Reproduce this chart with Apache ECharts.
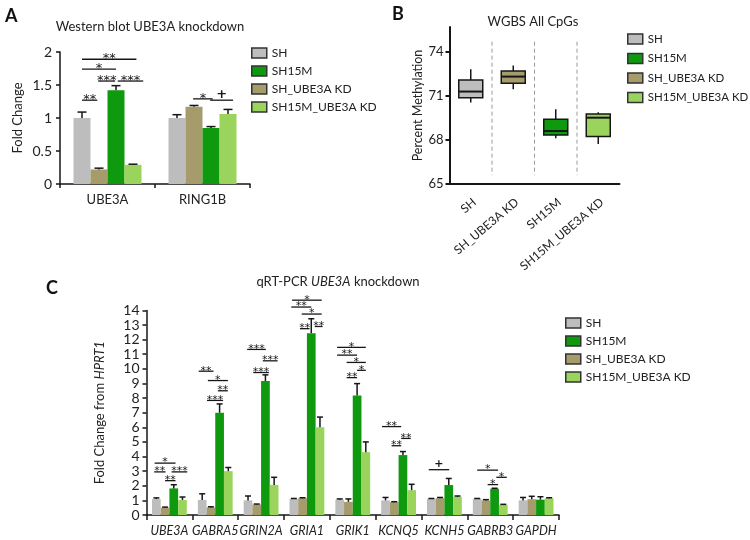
<!DOCTYPE html>
<html><head><meta charset="utf-8">
<script src="https://cdn.jsdelivr.net/npm/echarts@6/dist/echarts.min.js"></script>
<style>html,body{margin:0;padding:0;background:#fff}#c{width:750px;height:540px}</style>
</head><body><div id="c"></div>
<script>
// ---------- shared ----------
const groupNames = ['SH', 'SH_UBE3A KD', 'SH15M', 'SH15M_UBE3A KD']; // bar / box order
const legendOrder = ['SH', 'SH15M', 'SH_UBE3A KD', 'SH15M_UBE3A KD'];

// ---------- Panel A : Western blot ----------
const aCategories = ['UBE3A', 'RING1B'];
const aSH       = [1.00, 1.00];
const aSHKD     = [0.22, 1.17];
const aSH15M    = [1.42, 0.85];
const aSH15MKD  = [0.29, 1.06];
const aErrSH      = [0.09, 0.05];
const aErrSHKD    = [0.02, 0.02];
const aErrSH15M   = [0.07, 0.02];
const aErrSH15MKD = [0.01, 0.07];
// [category, fromBar, toBar, y]
const aBrackets = [[0, 0, 3.2, 1.89], [0, 0, 2, 1.74], [0, 0.95, 1.95, 1.56], [0, 2.1, 3.6, 1.56], [0, 0, 0.9, 1.27],
                   [1, 0.95, 2.1, 1.29], [1, 1.95, 3.3, 1.27]];
const aBracketLabels = ['**', '*', '***', '***', '**', '*', '+'];

// ---------- Panel B : WGBS boxplot ----------
const bCategories = ['SH', 'SH_UBE3A KD', 'SH15M', 'SH15M_UBE3A KD'];
// [min, q1, median, q3, max]
const bSH      = [70.55, 70.88, 71.30, 72.09, 72.82];
const bSHKD    = [71.45, 71.87, 72.32, 72.70, 73.07];
const bSH15M   = [68.11, 68.34, 68.61, 69.41, 70.09];
const bSH15MKD = [67.73, 68.23, 69.52, 69.77, 69.89];
const bTicks = [65, 68, 71, 74];

// ---------- Panel C : qRT-PCR ----------
const cCategories = ['UBE3A', 'GABRA5', 'GRIN2A', 'GRIA1', 'GRIK1', 'KCNQ5', 'KCNH5', 'GABRB3', 'GAPDH'];
const cSH      = [1.09, 1.03, 1.00, 1.10, 1.05, 1.00, 1.10, 1.10, 1.00];
const cSHKD    = [0.50, 0.52, 0.72, 1.15, 0.90, 0.88, 1.15, 1.00, 1.08];
const cSH15M   = [1.82, 7.00, 9.17, 12.44, 8.18, 4.10, 2.05, 1.80, 1.05];
const cSH15MKD = [1.03, 3.00, 2.06, 6.00, 4.30, 1.70, 1.25, 0.70, 1.15];
const cErrSH      = [0.08, 0.42, 0.30, 0.03, 0.05, 0.20, 0.03, 0.03, 0.20];
const cErrSHKD    = [0.04, 0.04, 0.03, 0.03, 0.20, 0.03, 0.05, 0.05, 0.20];
const cErrSH15M   = [0.25, 0.60, 0.42, 0.99, 0.81, 0.24, 0.45, 0.03, 0.20];
const cErrSH15MKD = [0.20, 0.25, 0.52, 0.70, 0.70, 0.40, 0.05, 0.03, 0.03];
const cBrackets = [
  [0, -0.2, 2.2, 3.55], [0, -0.25, 1.05, 2.95], [0, 1.75, 3.55, 2.95], [0, 1, 2.2, 2.35],
  [1, -0.4, 1.3, 9.84], [1, 0.65, 2.95, 9.2], [1, 1.8, 2.95, 8.5], [1, 0.55, 2.4, 7.84],
  [2, -0.1, 2.05, 11.33], [2, 1.7, 3.4, 10.55], [2, 0.6, 2.4, 9.75],
  [3, -0.2, 3.2, 14.7], [3, -0.3, 2.0, 14.23], [3, 0.9, 3.2, 13.75], [3, 0.7, 1.8, 12.75], [3, 2.4, 3.3, 12.9],
  [4, -0.3, 3.0, 11.47], [4, -0.3, 2.0, 10.94], [4, 0.8, 3.0, 10.44], [4, 2.0, 3.0, 9.9], [4, 0.8, 2.0, 9.4],
  [5, -0.4, 1.8, 6.05], [5, 1.8, 2.9, 5.24], [5, 0.7, 1.8, 4.74],
  [6, -0.3, 2.05, 3.1],
  [7, 0, 2.4, 3.07], [7, 2.2, 3.4, 2.58], [7, 1.2, 2.4, 2.08]
];
const cBracketLabels = ['*', '**', '***', '**',
  '**', '*', '**', '***',
  '***', '***', '***',
  '*', '**', '*', '**', '**',
  '*', '**', '*', '*', '**',
  '**', '**', '**',
  '+',
  '*', '*', '*'];

// ---------- styling ----------
const FONT = 'Lato';
const STAR_FONT = 'DejaVu Sans';
const COLORS = ['#bdbdbd', '#a69b6b', '#0e990e', '#9bd45c'];
const INK = '#161616';
const A_BW = 17, C_BW = 8.7;

const aVals = [aSH, aSHKD, aSH15M, aSH15MKD];
const aErrs = [aErrSH, aErrSHKD, aErrSH15M, aErrSH15MKD];
const cVals = [cSH, cSHKD, cSH15M, cSH15MKD];
const cErrs = [cErrSH, cErrSHKD, cErrSH15M, cErrSH15MKD];
const bVals = [bSH, bSHKD, bSH15M, bSH15MKD];

function errData(vals, errs) {
  const out = [];
  vals.forEach((arr, k) => arr.forEach((v, i) => out.push([i, k, v, v + errs[k][i]])));
  return out;
}
function errRender(bw, cap) {
  return function (params, api) {
    const cat = api.value(0), slot = api.value(1);
    const p0 = api.coord([cat, api.value(2)]);
    const p1 = api.coord([cat, api.value(3)]);
    const x = p0[0] + (slot - 1.5) * bw;
    return { type: 'group', children: [
      { type: 'line', shape: { x1: x, y1: p0[1], x2: x, y2: p1[1] }, style: { stroke: INK, lineWidth: 1.5 } },
      { type: 'line', shape: { x1: x - cap / 2, y1: p1[1], x2: x + cap / 2, y2: p1[1] }, style: { stroke: INK, lineWidth: 1.5 } }
    ] };
  };
}
function bracketRender(bw, labels, fs, dy, plusDy) {
  return function (params, api) {
    const cat = api.value(0);
    const p = api.coord([cat, api.value(3)]);
    const x1 = p[0] + (api.value(1) - 1.5) * bw;
    const x2 = p[0] + (api.value(2) - 1.5) * bw;
    const lab = labels[params.dataIndex];
    const isPlus = lab === '+';
    return { type: 'group', children: [
      { type: 'line', shape: { x1: x1, y1: p[1], x2: x2, y2: p[1] }, style: { stroke: INK, lineWidth: 1.3 } },
      { type: 'text', x: (x1 + x2) / 2, y: p[1] + (isPlus ? plusDy : dy), style: { text: lab, fill: INK,
        font: (isPlus ? 'bold ' : '') + fs + 'px ' + STAR_FONT, textAlign: 'center', textVerticalAlign: 'bottom' } }
    ] };
  };
}
function boxRender(params, api) {
  const c = api.value(0);
  const pMin = api.coord([c, api.value(1)]);
  const pQ1 = api.coord([c, api.value(2)]);
  const pMed = api.coord([c, api.value(3)]);
  const pQ3 = api.coord([c, api.value(4)]);
  const pMax = api.coord([c, api.value(5)]);
  const w = 24, x = pMin[0];
  return { type: 'group', children: [
    { type: 'line', shape: { x1: x, y1: pMax[1], x2: x, y2: pQ3[1] }, style: { stroke: INK, lineWidth: 1.5 } },
    { type: 'line', shape: { x1: x, y1: pQ1[1], x2: x, y2: pMin[1] }, style: { stroke: INK, lineWidth: 1.5 } },
    { type: 'rect', shape: { x: x - w / 2, y: pQ3[1], width: w, height: pQ1[1] - pQ3[1] },
      style: { fill: COLORS[params.seriesIndex - BOX_START], stroke: INK, lineWidth: 1.5 } },
    { type: 'line', shape: { x1: x - w / 2, y1: pMed[1], x2: x + w / 2, y2: pMed[1] }, style: { stroke: INK, lineWidth: 2 } }
  ] };
}
function sepRender(params, api) {
  const i = api.value(0);
  const a = api.coord([i, 74.7]), b = api.coord([i + 1, 65.6]);
  const x = (a[0] + b[0]) / 2;
  return { type: 'line', shape: { x1: x, y1: a[1], x2: x, y2: b[1] },
    style: { stroke: '#9a9a9a', lineWidth: 1, lineDash: [4, 3] } };
}

const series = [];
// Panel A bars
aVals.forEach((arr, k) => series.push({ type: 'bar', name: groupNames[k], xAxisIndex: 0, yAxisIndex: 0, data: arr,
  barWidth: A_BW, barGap: '0%', itemStyle: { color: COLORS[k] }, silent: true }));
series.push({ type: 'custom', xAxisIndex: 0, yAxisIndex: 0, data: errData(aVals, aErrs), renderItem: errRender(A_BW, 9),
  encode: { x: 0, y: 3 }, silent: true, z: 5 });
series.push({ type: 'custom', xAxisIndex: 0, yAxisIndex: 0, data: aBrackets, renderItem: bracketRender(A_BW, aBracketLabels, 13, 6, 1),
  encode: { x: 0, y: 3 }, silent: true, clip: false, z: 5 });
// Panel B boxes
const BOX_START = series.length;
bVals.forEach((arr, k) => series.push({ type: 'custom', name: groupNames[k], xAxisIndex: 1, yAxisIndex: 1,
  data: [[k].concat(arr)], renderItem: boxRender, encode: { x: 0, y: [1, 2, 3, 4, 5] },
  itemStyle: { color: COLORS[k] }, silent: true, z: 5 }));
series.push({ type: 'custom', xAxisIndex: 1, yAxisIndex: 1, data: [[0], [1], [2]], renderItem: sepRender,
  encode: { x: 0 }, silent: true, clip: false });
// Panel C bars
cVals.forEach((arr, k) => series.push({ type: 'bar', name: groupNames[k], xAxisIndex: 2, yAxisIndex: 2, data: arr,
  barWidth: C_BW, barGap: '0%', itemStyle: { color: COLORS[k] }, silent: true }));
series.push({ type: 'custom', xAxisIndex: 2, yAxisIndex: 2, data: errData(cVals, cErrs), renderItem: errRender(C_BW, 6),
  encode: { x: 0, y: 3 }, silent: true, clip: false, z: 5 });
series.push({ type: 'custom', xAxisIndex: 2, yAxisIndex: 2, data: cBrackets, renderItem: bracketRender(C_BW, cBracketLabels, 11, 5, 0),
  encode: { x: 0, y: 3 }, silent: true, clip: false, z: 5 });

const legendBase = {
  data: legendOrder, orient: 'vertical', icon: 'rect', itemWidth: 15, itemHeight: 10, itemGap: 6,
  selectedMode: false, textStyle: { fontSize: 12, fontFamily: FONT, color: '#222' },
  itemStyle: { borderColor: '#333', borderWidth: 1.5 }
};
const axisLineStyle = (w) => ({ show: true, lineStyle: { color: INK, width: w } });

const option = {
  animation: false,
  textStyle: { fontFamily: FONT },
  grid: [
    { left: 60, top: 52, width: 190, height: 132 },
    { left: 449.5, top: 27, width: 170, height: 157 },
    { left: 146.5, top: 310.4, width: 412.5, height: 204.6 }
  ],
  legend: [
    Object.assign({}, legendBase, { left: 246, top: 42 }),
    Object.assign({}, legendBase, { left: 622, top: 28, itemGap: 7.5, textStyle: { fontSize: 11.5, fontFamily: FONT, color: '#222' } }),
    Object.assign({}, legendBase, { left: 560, top: 312 })
  ],
  xAxis: [
    { gridIndex: 0, type: 'category', data: aCategories, axisLine: axisLineStyle(1.5),
      axisTick: { show: true, length: 4, lineStyle: { color: INK, width: 1.5 } },
      axisLabel: { fontSize: 13, color: '#222', margin: 9 } },
    { gridIndex: 1, type: 'category', data: bCategories, axisLine: axisLineStyle(2), axisTick: { show: false },
      axisLabel: { rotate: 40, fontSize: 12, color: '#222', margin: 12, verticalAlign: 'top' } },
    { gridIndex: 2, type: 'category', data: cCategories, axisLine: axisLineStyle(1.5),
      axisTick: { show: true, length: 5, lineStyle: { color: INK, width: 1.5 } },
      axisLabel: { interval: 0, fontSize: 12.5, fontStyle: 'italic', color: '#222', margin: 9 } }
  ],
  yAxis: [
    { gridIndex: 0, type: 'value', min: 0, max: 2, interval: 0.5, name: 'Fold Change', nameLocation: 'middle', nameGap: 36,
      nameTextStyle: { fontSize: 13, color: '#222' }, axisLine: axisLineStyle(1.5),
      axisTick: { show: true, length: 4, lineStyle: { color: INK, width: 1.5 } }, splitLine: { show: false },
      axisLabel: { fontSize: 14, color: '#222', margin: 8 } },
    { gridIndex: 1, type: 'value', min: 65, max: 75.7, interval: 3, name: 'Percent Methylation', nameLocation: 'middle', nameGap: 25,
      nameTextStyle: { fontSize: 12.5, color: '#222' }, axisLine: axisLineStyle(2),
      axisTick: { show: true, length: 4, customValues: bTicks, lineStyle: { color: INK, width: 2 } }, splitLine: { show: false },
      axisLabel: { fontSize: 13, color: '#222', margin: 6, customValues: bTicks } },
    { gridIndex: 2, type: 'value', min: 0, max: 14, interval: 1, name: '{n|Fold Change from }{i|HPRT1}', nameLocation: 'middle', nameGap: 40,
      nameTextStyle: { fontSize: 13, color: '#222', rich: { n: { fontSize: 13, color: '#222', fontFamily: FONT }, i: { fontSize: 13, color: '#222', fontFamily: FONT, fontStyle: 'italic' } } },
      axisLine: axisLineStyle(1.5), axisTick: { show: true, length: 4, lineStyle: { color: INK, width: 1.5 } }, splitLine: { show: false },
      axisLabel: { fontSize: 14, color: '#222', margin: 7 } }
  ],
  graphic: [
    { type: 'text', x: 5, y: 7, style: { text: 'A', font: 'bold 18px ' + FONT, fill: '#111' } },
    { type: 'text', x: 392, y: 5, style: { text: 'B', font: 'bold 18px ' + FONT, fill: '#111' } },
    { type: 'text', x: 46, y: 279, style: { text: 'C', font: 'bold 18px ' + FONT, fill: '#111' } },
    { type: 'text', x: 150, y: 27, style: { text: 'Western blot UBE3A knockdown', font: '13px ' + FONT, fill: '#222', textAlign: 'center', textVerticalAlign: 'middle' } },
    { type: 'text', x: 533, y: 22, style: { text: 'WGBS All CpGs', font: '13px ' + FONT, fill: '#222', textAlign: 'center', textVerticalAlign: 'middle' } },
    { type: 'text', x: 338, y: 282, style: { text: '{n|qRT-PCR }{i|UBE3A}{n| knockdown}', textAlign: 'center', textVerticalAlign: 'middle',
      rich: { n: { fontSize: 13, fontFamily: FONT, fill: '#222' }, i: { fontSize: 13, fontFamily: FONT, fontStyle: 'italic', fill: '#222' } } } }
  ],
  series: series
};
const chart = echarts.init(document.getElementById('c'));
chart.setOption(option);
</script>
</body></html>
